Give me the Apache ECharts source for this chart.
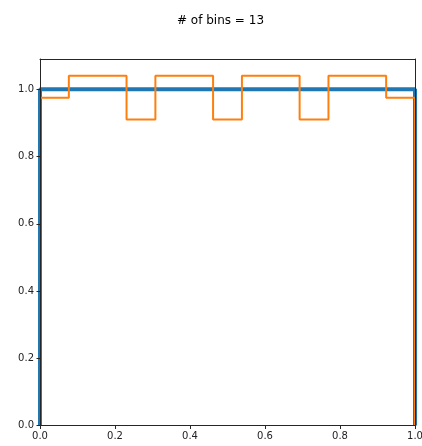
<!DOCTYPE html>
<html>
<head>
<meta charset="utf-8">
<script src="https://cdn.jsdelivr.net/npm/echarts@6/dist/echarts.min.js"></script>
<style>
  html, body { margin: 0; padding: 0; background: #fff; }
  #chart { width: 422px; height: 446px; }
</style>
</head>
<body>
<div id="chart"></div>
<script>
// Histogram settings and values
const titleText = '# of bins = 13';
const nBins = 13;
const rangeMin = 0;
const rangeMax = 1;

// Reference density (uniform): a flat step from 0 to 1
const uniformDensity = 1.0;

// Step-histogram density of each of the 13 bins
const binDensity = [0.975, 1.04, 1.04, 0.91, 1.04, 1.04, 0.91, 1.04, 1.04, 0.91, 1.04, 1.04, 0.975];

// Tick labels
const xTicks = [0, 0.2, 0.4, 0.6, 0.8, 1.0];
const yTicks = [0, 0.2, 0.4, 0.6, 0.8, 1.0];

// Bin edges spaced evenly across the range
const binEdges = [];
for (let i = 0; i <= nBins; i++) binEdges.push(rangeMin + (rangeMax - rangeMin) * i / nBins);

// Outline of the uniform density
const uniformPath = [[rangeMin, 0], [rangeMin, uniformDensity], [rangeMax, uniformDensity], [rangeMax, 0]];

// Outline of the step histogram
const histPath = [];
binDensity.forEach((d, i) => {
  histPath.push([binEdges[i], d]);
  histPath.push([binEdges[i + 1], d]);
});
histPath.push([binEdges[nBins], 0]);

const FONT = 'DejaVu Sans';
const spine = '#262626';

const chart = echarts.init(document.getElementById('chart'), null, { renderer: 'canvas' });
chart.setOption({
  animation: false,
  backgroundColor: '#fff',
  title: {
    text: titleText,
    left: 172,
    top: 10,
    textStyle: { fontFamily: FONT, fontSize: 12, fontWeight: 'normal', color: '#000' }
  },
  grid: { left: 40, right: 7, top: 59, bottom: 20.5, containLabel: false, outerBoundsMode: 'none' },
  xAxis: [
    {
      type: 'value', min: 0, max: 1, interval: 0.2, z: 10,
      axisLine: { show: true, lineStyle: { color: spine, width: 1 } },
      axisTick: { show: true, length: 3.5, lineStyle: { color: spine, width: 1 }, customValues: xTicks },
      axisLabel: {
        show: true, margin: 6, fontFamily: FONT, fontSize: 10, color: '#222',
        customValues: xTicks, formatter: v => v.toFixed(1)
      },
      splitLine: { show: false }
    },
    {
      type: 'value', position: 'top', min: 0, max: 1, z: 10,
      axisLine: { show: true, onZero: false, lineStyle: { color: spine, width: 1 } },
      axisTick: { show: false }, axisLabel: { show: false }, splitLine: { show: false }
    }
  ],
  yAxis: [
    {
      type: 'value', min: 0, max: 1.09, z: 10,
      axisLine: { show: true, lineStyle: { color: spine, width: 1 } },
      axisTick: { show: true, length: 3.5, lineStyle: { color: spine, width: 1 }, customValues: yTicks },
      axisLabel: {
        show: true, margin: 6, fontFamily: FONT, fontSize: 10, color: '#222',
        customValues: yTicks, formatter: v => v.toFixed(1)
      },
      splitLine: { show: false }
    },
    {
      type: 'value', position: 'right', min: 0, max: 1.09, z: 10,
      axisLine: { show: true, onZero: false, lineStyle: { color: spine, width: 1 } },
      axisTick: { show: false }, axisLabel: { show: false }, splitLine: { show: false }
    }
  ],
  series: [
    {
      name: 'uniform',
      type: 'line',
      data: uniformPath,
      showSymbol: false,
      clip: true,
      lineStyle: { color: '#1f77b4', width: 4 },
      z: 2
    },
    {
      name: 'histogram',
      type: 'line',
      data: histPath,
      showSymbol: false,
      clip: true,
      lineStyle: { color: '#ff7f0e', width: 2 },
      z: 3
    }
  ]
});
</script>
</body>
</html>
